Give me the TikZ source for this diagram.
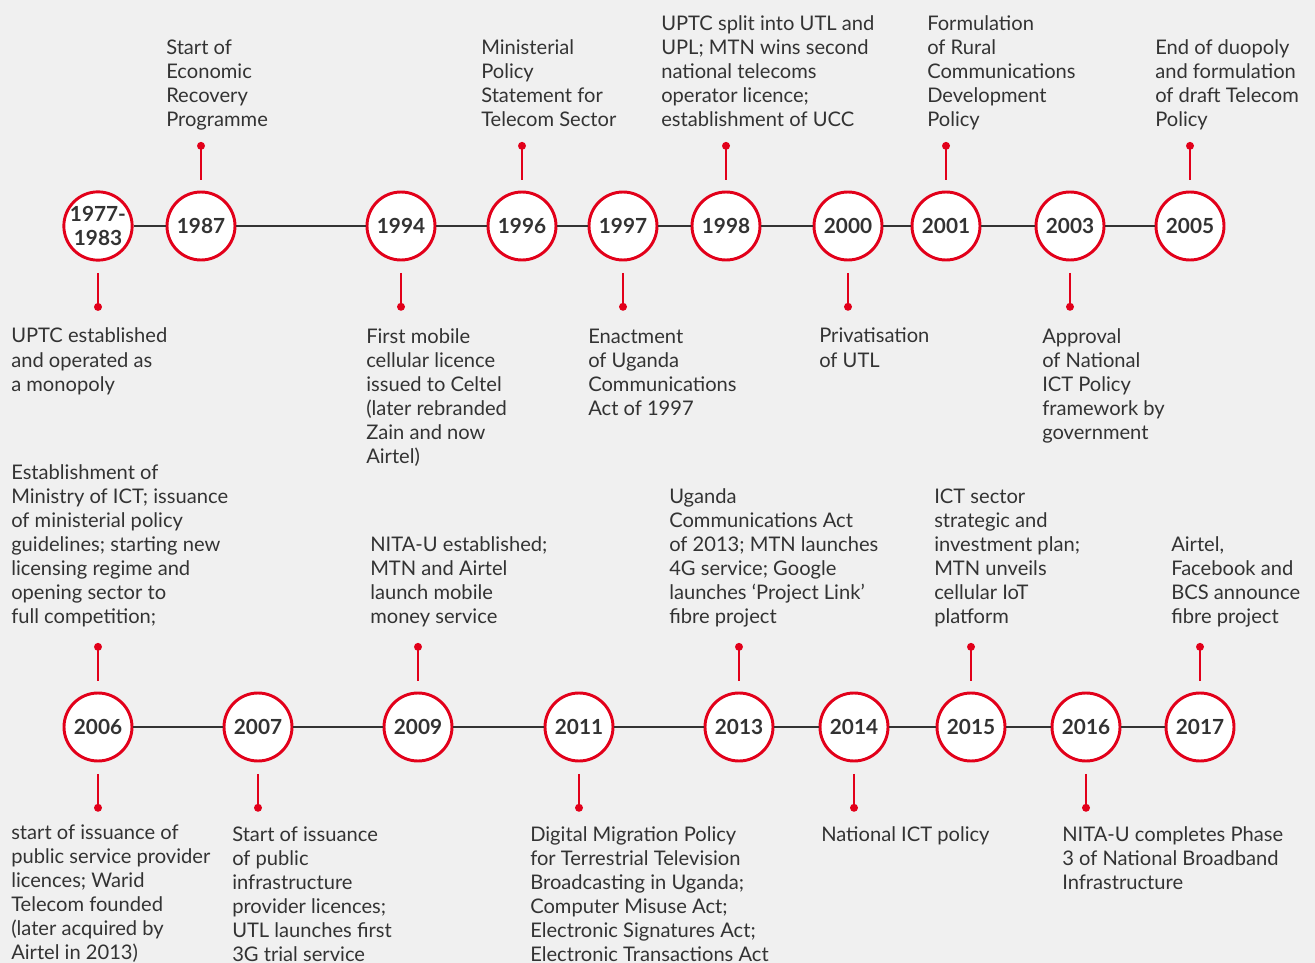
\documentclass[tikz,border=0pt]{standalone}
\usepackage{fontspec}
\setmainfont{Lato}
\definecolor{tlred}{RGB}{226,0,26}
\definecolor{tlgrey}{RGB}{51,51,51}
\definecolor{tlback}{RGB}{240,240,240}

\begin{document}
\begin{tikzpicture}[x=0.75pt,y=-0.75pt,
  year/.style={circle, draw=tlred, line width=2.2pt, fill=white, minimum size=51pt,
    inner sep=0pt, align=center, text=tlgrey,
    font=\fontsize{15.6pt}{18pt}\selectfont\bfseries},
  tline/.style={draw=tlgrey, line width=1.5pt},
  stub/.style={draw=tlred, line width=1.5pt},
  dot/.style={circle, fill=tlred, inner sep=0pt, minimum size=6pt},
  note/.style={anchor=base west, align=left, inner sep=0pt, text=tlgrey,
    font=\fontsize{15.1pt}{18pt}\selectfont}]

  \fill[tlback] (0,0) rectangle (1315,963);
  \useasboundingbox (0,0) rectangle (1315,963);

  % first row
  \node[year] (y1977) at (98,226) {1977-\\1983};
  \node[year] (y1987) at (201,226) {1987};
  \node[year] (y1994) at (401,226) {1994};
  \node[year] (y1996) at (522,226) {1996};
  \node[year] (y1997) at (623,226) {1997};
  \node[year] (y1998) at (726,226) {1998};
  \node[year] (y2000) at (848,226) {2000};
  \node[year] (y2001) at (946,226) {2001};
  \node[year] (y2003) at (1070,226) {2003};
  \node[year] (y2005) at (1190,226) {2005};

  % second row
  \node[year] (y2006) at (98,727) {2006};
  \node[year] (y2007) at (258,727) {2007};
  \node[year] (y2009) at (418,727) {2009};
  \node[year] (y2011) at (579,727) {2011};
  \node[year] (y2013) at (739,727) {2013};
  \node[year] (y2014) at (854,727) {2014};
  \node[year] (y2015) at (971,727) {2015};
  \node[year] (y2016) at (1086,727) {2016};
  \node[year] (y2017) at (1200,727) {2017};

  \foreach \a/\b in {y1977/y1987,y1987/y1994,y1994/y1996,y1996/y1997,y1997/y1998,
      y1998/y2000,y2000/y2001,y2001/y2003,y2003/y2005,
      y2006/y2007,y2007/y2009,y2009/y2011,y2011/y2013,y2013/y2014,
      y2014/y2015,y2015/y2016,y2016/y2017}
    \draw[tline] (\a) -- (\b);

  % stubs
  \foreach \n in {y1987,y1996,y1998,y2001,y2005,y2006,y2009,y2013,y2015,y2017}
    \draw[stub] ([yshift=8pt]\n.north) -- ++(0,-34) node[dot] {};
  \foreach \n in {y1977,y1994,y1997,y2000,y2003,y2006,y2007,y2011,y2014,y2016}
    \draw[stub] ([yshift=-8.5pt]\n.south) -- ++(0,34) node[dot] {};

  % notes, first row (placed at baseline of last line)
  \node[note] (t1987) at (166,127) {Start of\\Economic\\Recovery\\Programme};
  \node[note] (t1996) at (481,127) {Ministerial\\Policy\\Statement for\\Telecom Sector};
  \node[note] (t1998) at (661,127) {UPTC split into UTL and\\UPL; MTN wins second\\national telecoms\\operator licence;\\establishment of UCC};
  \node[note] (t2001) at (927,127) {Formulation\\of Rural\\Communications\\Development\\Policy};
  \node[note] (t2005) at (1155,127) {End of duopoly\\and formulation\\of draft Telecom\\Policy};
  \node[note] (t1977) at (11,391) {UPTC established\\and operated as\\a monopoly};
  \node[note] (t1994) at (366,463) {First mobile\\cellular licence\\issued to Celtel\\(later rebranded\\Zain and now\\Airtel)};
  \node[note] (t1997) at (588,415) {Enactment\\of Uganda\\Communications\\Act of 1997};
  \node[note] (t2000) at (819,367) {Privatisation\\of UTL};
  \node[note] (t2003) at (1042,439) {Approval\\of National\\ICT Policy\\framework by\\government};

  % notes, second row
  \node[note] (u2006) at (11,623) {Establishment of\\Ministry of ICT; issuance\\of ministerial policy\\guidelines; starting new\\licensing regime and\\opening sector to\\full competition;};
  \node[note] (t2009) at (370,623) {NITA-U established;\\MTN and Airtel\\launch mobile\\money service};
  \node[note] (t2013) at (669,623) {Uganda\\Communications Act\\of 2013; MTN launches\\4G service; Google\\launches `Project Link'\\fibre project};
  \node[note] (t2015) at (934,623) {ICT sector\\strategic and\\investment plan;\\MTN unveils\\cellular IoT\\platform};
  \node[note] (t2017) at (1171,623) {Airtel,\\Facebook and\\BCS announce\\fibre project};
  \node[note] (d2006) at (11,959) {start of issuance of\\public service provider\\licences; Warid\\Telecom founded\\(later acquired by\\Airtel in 2013)};
  \node[note] (t2007) at (232,961) {Start of issuance\\of public\\infrastructure\\provider licences;\\UTL launches first\\3G trial service};
  \node[note] (t2011) at (530,961) {Digital Migration Policy\\for Terrestrial Television\\Broadcasting in Uganda;\\Computer Misuse Act;\\Electronic Signatures Act;\\Electronic Transactions Act};
  \node[note] (t2014) at (821,841) {National ICT policy};
  \node[note] (t2016) at (1062,889) {NITA-U completes Phase\\3 of National Broadband\\Infrastructure};
\end{tikzpicture}
\end{document}
